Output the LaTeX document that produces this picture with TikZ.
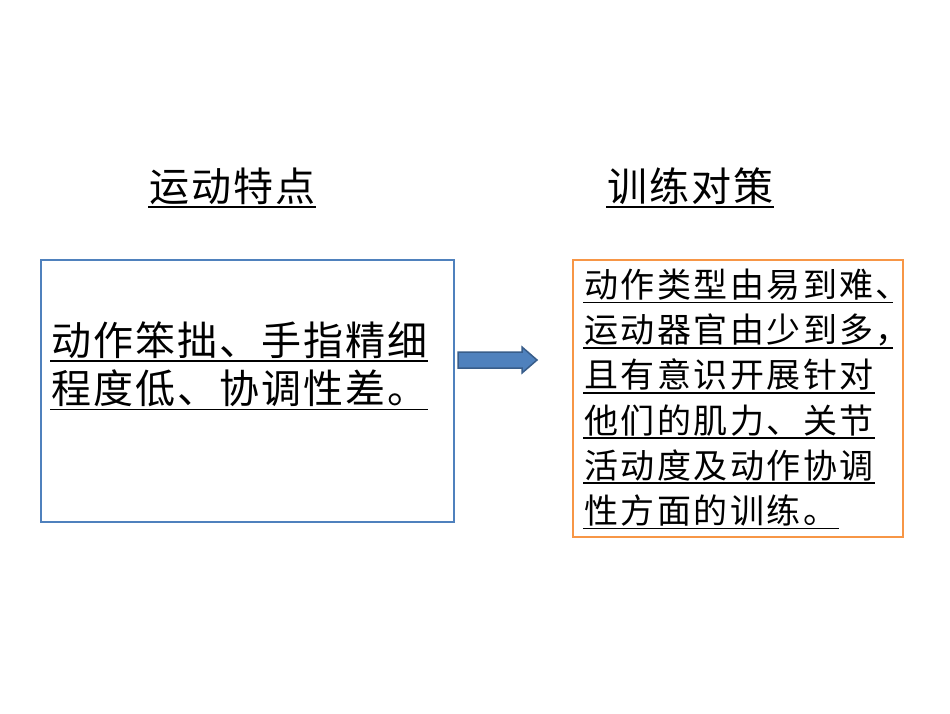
\documentclass[tikz,border=0pt]{standalone}
\usepackage{fontspec}
\newfontfamily\cjk{Noto Sans CJK SC}
\definecolor{boxblue}{HTML}{4F81BD}
\definecolor{arrowedge}{HTML}{385D8A}
\definecolor{boxorange}{HTML}{F79646}
\newlength\pitch
\def\spaced#1{\spacedaux#1\relax}
\def\spacedaux#1{\ifx#1\relax\else\makebox[\pitch]{#1}\expandafter\spacedaux\fi}
\newcommand\bigsp[1]{\setlength\pitch{42pt}\spaced{#1}}
\newcommand\smsp[1]{\setlength\pitch{36.5pt}\spaced{#1}}
\tikzset{
  bigtxt/.style={anchor=base west, inner sep=0pt, font=\cjk\fontsize{40}{40}\selectfont},
  smtxt/.style={anchor=base west, inner sep=0pt, font=\cjk\fontsize{34}{34}\selectfont},
  uline/.style={line width=1.8pt, black},
  panel/.style={draw=#1, line width=2pt, anchor=north west, inner sep=0pt}
}
\begin{document}
\begin{tikzpicture}[x=1pt,y=-1pt]
\fill[white] (0,0) rectangle (950,713);
% boxes
\node[panel=boxblue, minimum width=413pt, minimum height=262pt] (lbox) at (40,259) {};
\node[panel=boxorange, minimum width=330pt, minimum height=277pt] (rbox) at (572,259) {};
% block arrow
\filldraw[fill=boxblue, draw=arrowedge, line width=1.5pt]
  (458,352) -- (522,352) -- (522,347) -- (537,360) -- (522,373) -- (522,368) -- (458,368) -- cycle;
% titles
\node[bigtxt] (t1) at (148,201.5) {\bigsp{运动特点}};
\node[bigtxt] (t2) at (606,201.5) {\bigsp{训练对策}};
\foreach \n in {t1,t2}{\draw[uline] ([yshift=-5.5pt]\n.base west) -- ([yshift=-5.5pt]\n.base east);}
% left text
\node[bigtxt] (l1) at (50,355) {\bigsp{动作笨拙、手指精细}};
\node[bigtxt] (l2) at (50,403.5) {\bigsp{程度低、协调性差。}};
\foreach \n in {l1,l2}{\draw[uline] ([yshift=-6pt]\n.base west) -- ([yshift=-6pt]\n.base east);}
% right text
\node[smtxt] (r1) at (583,297.5) {\smsp{动作类型由易到难}\makebox[18pt][l]{、}};
\node[smtxt] (r2) at (583,342.7) {\smsp{运动器官由少到多}\makebox[18pt][l]{，}};
\node[smtxt] (r3) at (583,387.9) {\smsp{且有意识开展针对}};
\node[smtxt] (r4) at (583,433.1) {\smsp{他们的肌力、关节}};
\node[smtxt] (r5) at (583,478.3) {\smsp{活动度及动作协调}};
\node[smtxt] (r6) at (583,523.5) {\smsp{性方面的训练。}\hspace{6pt}};
\foreach \n in {r1,r2,r3,r4,r5,r6}{\draw[uline] ([yshift=-5pt]\n.base west) -- ([yshift=-5pt]\n.base east);}
\end{tikzpicture}
\end{document}
